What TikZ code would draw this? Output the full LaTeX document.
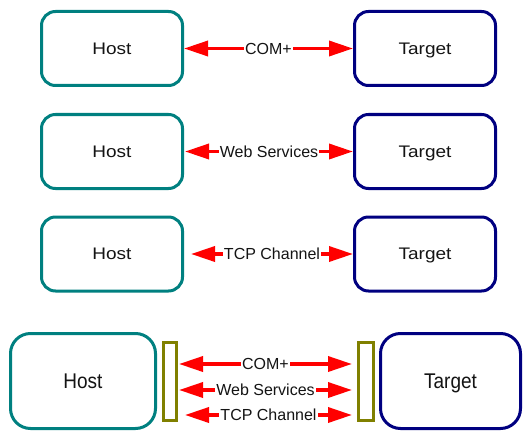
\documentclass[tikz,border=0pt]{standalone}
\usepackage{fontspec}
\setmainfont{Liberation Sans}
\usetikzlibrary{arrows.meta}
\definecolor{hostc}{RGB}{0,128,128}
\definecolor{targc}{RGB}{0,0,128}
\definecolor{olivc}{RGB}{128,128,0}
\definecolor{arrc}{RGB}{255,0,0}
\definecolor{txtc}{RGB}{20,20,20}
\newcommand{\boxtxt}[2]{\scalebox{1}[#1]{#2}}
\begin{document}
\begin{tikzpicture}[x=1pt,y=-1pt,
  box/.style={draw, line width=3pt, rounded corners=14pt, fill=white,
    minimum width=141pt, minimum height=74pt, inner sep=0pt, text=txtc,
    text depth=0pt, font=\fontsize{19}{20}\selectfont},
  hostbox/.style={box, draw=hostc},
  targbox/.style={box, draw=targc},
  bigbox/.style={rounded corners=20pt, minimum height=95pt},
  plug/.style={draw=olivc, line width=3pt, minimum height=78pt, inner sep=0pt},
  arr/.style={draw=arrc, line width=3.5pt, {Triangle[length=24pt,width=15pt]}-{Triangle[length=24pt,width=15pt]}},
  lbl/.style={fill=white, inner sep=1pt, text=txtc, font=\fontsize{16}{18}\selectfont}
]
\useasboundingbox (0,0) rectangle (524,433);
% row 1
\node[hostbox] (h1) at (112,48.5) {\boxtxt{0.88}{Host}};
\node[targbox] (t1) at (425,48.5) {\boxtxt{0.88}{Target}};
\draw[arr] (h1.east) -- node[lbl] {COM+} (t1.west);
% row 2
\node[hostbox] (h2) at (112,151.5) {\boxtxt{0.88}{Host}};
\node[targbox] (t2) at (425,151.5) {\boxtxt{0.88}{Target}};
\draw[arr] ([xshift=1pt]h2.east) -- node[lbl] {Web Services} (t2.west);
% row 3
\node[hostbox] (h3) at (112,254) {\boxtxt{0.88}{Host}};
\node[targbox] (t3) at (425,254) {\boxtxt{0.88}{Target}};
\draw[arr] ([xshift=7pt]h3.east) -- node[lbl] {TCP Channel} (t3.west);
% row 4
\node[hostbox, bigbox, minimum width=145pt] (h4) at (83,381) {\boxtxt{1.12}{Host}};
\node[targbox, bigbox, minimum width=140pt] (t4) at (450.5,381) {\boxtxt{1.12}{Target}};
\node[plug, minimum width=13pt] (p1) at (170,381.5) {};
\node[plug, minimum width=15pt] (p2) at (366,381.5) {};
\draw[arr] ([xshift=1pt,yshift=17.5pt]p1.east) -- node[lbl] {COM+} ([xshift=-5pt,yshift=17.5pt]p2.west);
\draw[arr] ([xshift=1pt,yshift=-8.5pt]p1.east) -- node[lbl] {Web Services} ([xshift=-5pt,yshift=-8.5pt]p2.west);
\draw[arr] ([xshift=7pt,yshift=-33.5pt]p1.east) -- node[lbl] {TCP Channel} ([xshift=-5pt,yshift=-33.5pt]p2.west);
\end{tikzpicture}
\end{document}
